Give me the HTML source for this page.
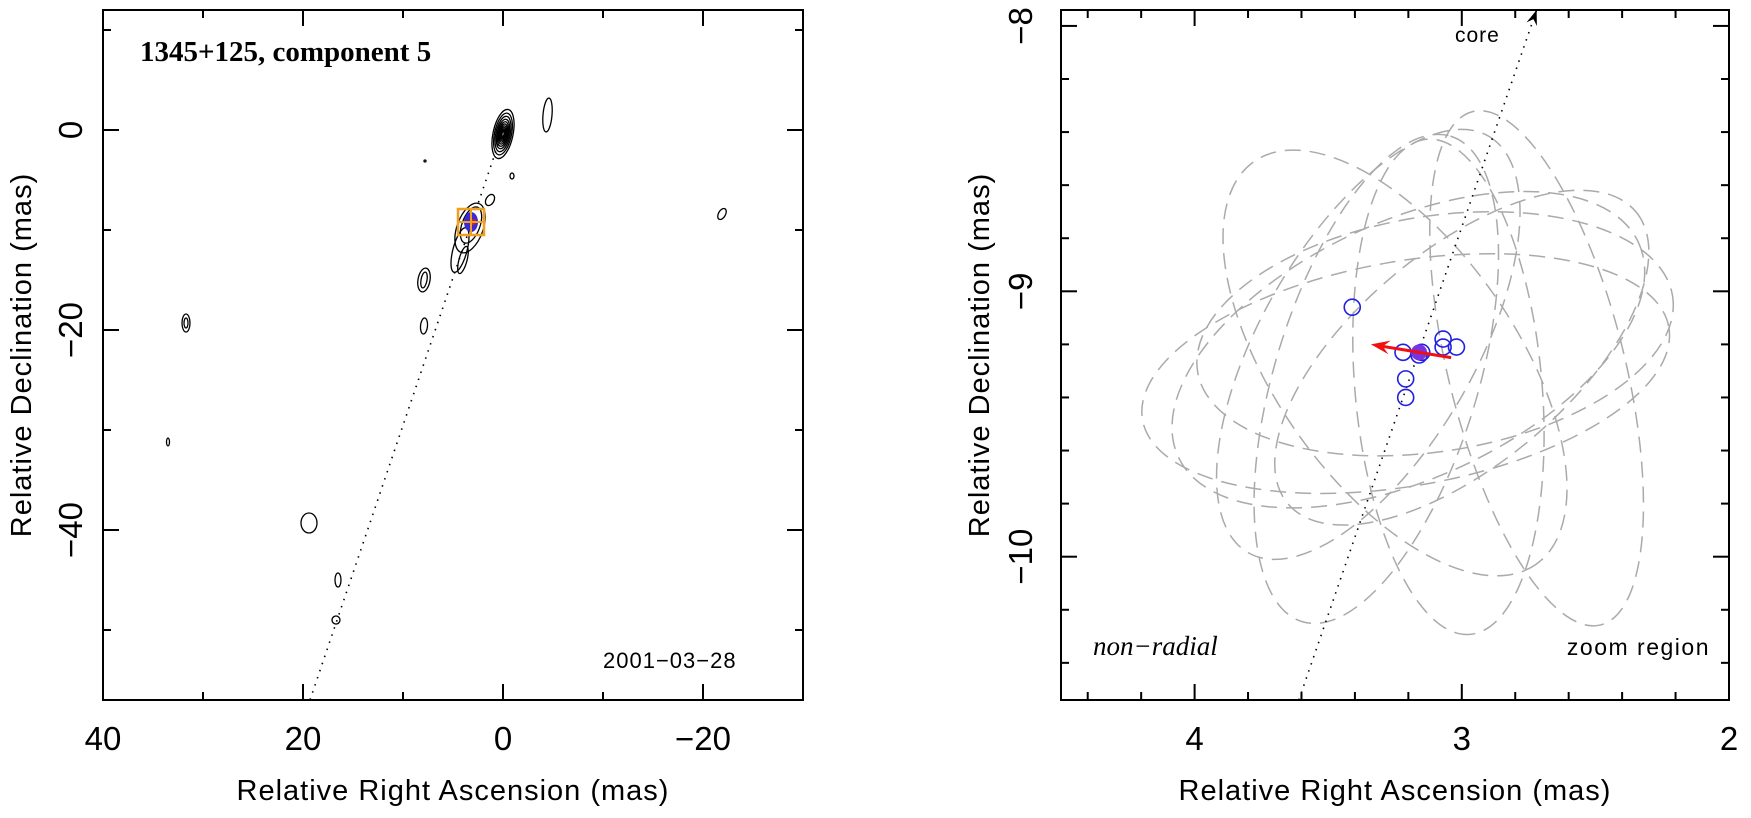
<!DOCTYPE html>
<html><head><meta charset="utf-8"><style>
body{margin:0;background:#fff}
svg{display:block}
text{font-family:"Liberation Sans",sans-serif;fill:#000}
</style></head><body>
<svg id="fig" width="1751" height="818" viewBox="0 0 1751 818" xmlns="http://www.w3.org/2000/svg">
<g id="left"></g>
<g id="right"></g>
</svg>
<script>
// ---- data: left panel (mas) ----
const leftXTicks = [40, 20, 0, -20];
const leftYTicks = [0, -20, -40];
const coreContourLevels = [1.0, 0.85, 0.72, 0.6, 0.5, 0.41, 0.33, 0.26, 0.2, 0.15, 0.1];
// blobs: ra, dec, semi-a, semi-b, angle
const blobRA  = [-4.45, -21.9, 31.7, 31.7, 33.5, 7.9, 7.9, 7.9, 4.3, 4.0, 1.3, -0.9, 19.4, 16.5, 16.7, 7.8, 3.3, 3.2];
const blobDec = [1.5, -8.4, -19.3, -19.3, -31.2, -15.0, -15.0, -19.6, -12.0, -13.0, -7.0, -4.6, -39.3, -45.0, -49.0, -3.1, -9.8, -9.5];
const blobA   = [0.45, 0.6, 0.4, 0.2, 0.15, 0.6, 0.3, 0.35, 0.7, 0.4, 0.4, 0.2, 0.8, 0.3, 0.4, 0.1, 1.3, 0.9];
const blobB   = [1.7, 0.35, 0.9, 0.5, 0.4, 1.2, 0.8, 0.8, 2.3, 1.4, 0.6, 0.3, 1.0, 0.7, 0.4, 0.1, 2.6, 1.9];
const blobAng = [5, -60, 0, 0, 0, 10, 10, 5, 15, 15, 30, 0, 0, 0, 30, 0, 20, 20];
const compRA = 3.2, compDec = -9.2;
// ---- data: right panel (mas) ----
const rightXTicks = [4, 3, 2];
const rightYTicks = [-8, -9, -10];
const epochRA  = [3.41, 3.22, 3.16, 3.07, 3.07, 3.02, 3.21, 3.21, 3.15];
const epochDec = [-9.06, -9.23, -9.24, -9.18, -9.21, -9.21, -9.33, -9.40, -9.23];
const meanRA = 3.16, meanDec = -9.23;
const arrowFrom = [3.04, -9.25], arrowTo = [3.34, -9.20];
const coreLineFrom = [3.61, -10.54], coreLineTo = [2.72, -7.94];
// error ellipses: ra, dec, semi-major, semi-minor (mas), angle (deg, clockwise from x)
const ellRA  = [3.21, 2.72, 3.32, 3.1, 3.2, 3.05, 3.25, 3.0, 3.35];
const ellDec = [-9.31, -9.29, -9.33, -9.16, -9.22, -9.36, -9.27, -9.25, -9.2];
const ellA   = [1.0, 0.99, 0.95, 0.9, 0.95, 0.93, 0.92, 0.85, 0.9];
const ellB   = [0.42, 0.33, 0.38, 0.44, 0.48, 0.35, 0.45, 0.4, 0.4];
const ellAng = [-10, 76, -73, -9, -25, 85, 55, -40, -60];

const NS = "http://www.w3.org/2000/svg";
function mk(parent, tag, attrs){const e=document.createElementNS(NS,tag);for(const k in attrs)e.setAttribute(k,attrs[k]);parent.appendChild(e);return e;}

// ---------- LEFT ----------
const L = document.getElementById('left');
const lx0=103,lx1=803,ly0=10,ly1=700, lraMax=40, lraMin=-30, ldecMax=12, ldecMin=-57;
const lx = ra => lx0 + (lraMax-ra)/(lraMax-lraMin)*(lx1-lx0);
const ly = d => ly0 + (ldecMax-d)/(ldecMax-ldecMin)*(ly1-ly0);
const lsx = (lx1-lx0)/(lraMax-lraMin);
let fr = mk(L,'rect',{x:lx0,y:ly0,width:lx1-lx0,height:ly1-ly0,fill:'none',stroke:'#000','stroke-width':2});
 
for(let v=40; v>=-30; v-=10){const major=(v%20===0);const len=major?16:8;
  mk(L,'line',{x1:lx(v),x2:lx(v),y1:ly1,y2:ly1-len,stroke:'#000','stroke-width':2});
  mk(L,'line',{x1:lx(v),x2:lx(v),y1:ly0,y2:ly0+len,stroke:'#000','stroke-width':2});}
for(let v=10; v>=-50; v-=10){const major=(v%20===0);const len=major?16:8;
  mk(L,'line',{x1:lx0,x2:lx0+len,y1:ly(v),y2:ly(v),stroke:'#000','stroke-width':2});
  mk(L,'line',{x1:lx1,x2:lx1-len,y1:ly(v),y2:ly(v),stroke:'#000','stroke-width':2});}
leftXTicks.forEach(v=>{const t=mk(L,'text',{x:lx(v),y:750,'font-size':33,'text-anchor':'middle'});t.textContent=String(v).replace('-','−');
   });
leftYTicks.forEach(v=>{const t=mk(L,'text',{x:0,y:0,'font-size':33,'text-anchor':'middle',transform:`translate(82,${ly(v)}) rotate(-90)`});t.textContent=String(v).replace('-','−');
   });
let t=mk(L,'text',{x:453,y:800,'font-size':29,'text-anchor':'middle','letter-spacing':'1'});t.textContent='Relative Right Ascension (mas)';
 
t=mk(L,'text',{x:0,y:0,'font-size':29,'text-anchor':'middle','letter-spacing':'1',transform:`translate(31,${(ly0+ly1)/2}) rotate(-90)`});t.textContent='Relative Declination (mas)';
 
t=mk(L,'text',{x:140,y:61,'font-size':29,'font-weight':'bold',style:'font-family:"Liberation Serif",serif'});t.textContent='1345+125, component 5';
 
t=mk(L,'text',{x:603,y:668,'font-size':22,fill:'#333','letter-spacing':'1'});t.textContent='2001−03−28';
 
// dotted jet line
let dl=mk(L,'line',{x1:lx(0),y1:ly(0),x2:lx(19.3),y2:ly(-57),stroke:'#000','stroke-width':1.6,'stroke-dasharray':'1.5 6'});
 
// core contours
coreContourLevels.forEach(s=>{const e=mk(L,'ellipse',{cx:lx(0),cy:ly(-0.4),rx:1.0*s*lsx,ry:2.5*s*lsx,fill:'none',stroke:'#000','stroke-width':1.3,transform:`rotate(12 ${lx(0)} ${ly(-0.4)})`});
   });
// blobs
blobRA.forEach((ra,i)=>{const cx=lx(ra),cy=ly(blobDec[i]);const e=mk(L,'ellipse',{cx,cy,rx:blobA[i]*lsx,ry:blobB[i]*lsx,fill:'none',stroke:'#000','stroke-width':1.3,transform:`rotate(${blobAng[i]} ${cx} ${cy})`});
   });
// component marker
const ccx=lx(compRA), ccy=ly(compDec);
let ce=mk(L,'ellipse',{cx:ccx,cy:ccy,rx:7,ry:10,fill:'#3a2bd6'});  
ce=mk(L,'circle',{cx:ccx+2,cy:ccy,r:3,fill:'#e02020'});  
let zr=mk(L,'rect',{x:ccx-13,y:ccy-13,width:26,height:26,fill:'none',stroke:'#f0a020','stroke-width':2.5});
mk(L,'line',{x1:ccx-13,x2:ccx+13,y1:ccy,y2:ccy,stroke:'#f0a020','stroke-width':2});
mk(L,'line',{x1:ccx,x2:ccx,y1:ccy-13,y2:ccy+13,stroke:'#f0a020','stroke-width':2});

// ---------- RIGHT ----------
const R = document.getElementById('right');
const rx0=1061,rx1=1729,ry0=10,ry1=700, rraMax=4.5, rraMin=2.0, rdecMax=-7.94, rdecMin=-10.54;
const rx = ra => rx0 + (rraMax-ra)/(rraMax-rraMin)*(rx1-rx0);
const ry = d => ry0 + (rdecMax-d)/(rdecMax-rdecMin)*(ry1-ry0);
const rs = (rx1-rx0)/(rraMax-rraMin);
fr=mk(R,'rect',{x:rx0,y:ry0,width:rx1-rx0,height:ry1-ry0,fill:'none',stroke:'#000','stroke-width':2});
 
for(let k=0;k<=12;k++){const v=4.4-0.2*k; if(v<2.01) break; const major=Math.abs(v-Math.round(v))<1e-6; const len=major?16:8;
  mk(R,'line',{x1:rx(v),x2:rx(v),y1:ry1,y2:ry1-len,stroke:'#000','stroke-width':2});
  mk(R,'line',{x1:rx(v),x2:rx(v),y1:ry0,y2:ry0+len,stroke:'#000','stroke-width':2});}
for(let k=0;k<=13;k++){const v=-8.0-0.2*k; if(v<-10.53) break; const major=Math.abs(v-Math.round(v))<1e-6; const len=major?16:8;
  mk(R,'line',{x1:rx0,x2:rx0+len,y1:ry(v),y2:ry(v),stroke:'#000','stroke-width':2});
  mk(R,'line',{x1:rx1,x2:rx1-len,y1:ry(v),y2:ry(v),stroke:'#000','stroke-width':2});}
rightXTicks.forEach(v=>{const t=mk(R,'text',{x:rx(v),y:750,'font-size':33,'text-anchor':'middle'});t.textContent=String(v);
   });
rightYTicks.forEach(v=>{const t=mk(R,'text',{x:0,y:0,'font-size':33,'text-anchor':'middle',transform:`translate(1032,${ry(v)}) rotate(-90)`});t.textContent=String(v).replace('-','−');
   });
t=mk(R,'text',{x:1395,y:800,'font-size':29,'text-anchor':'middle','letter-spacing':'1'});t.textContent='Relative Right Ascension (mas)';
 
t=mk(R,'text',{x:0,y:0,'font-size':29,'text-anchor':'middle','letter-spacing':'1',transform:`translate(989,${(ry0+ry1)/2}) rotate(-90)`});t.textContent='Relative Declination (mas)';
 
t=mk(R,'text',{x:1093,y:655,'font-size':27,style:'font-family:"Liberation Serif",serif;font-style:italic'});t.textContent='non−radial';
 
t=mk(R,'text',{x:1710,y:655,'font-size':23,'text-anchor':'end',fill:'#333','letter-spacing':'1.5'});t.textContent='zoom region';
 
// ellipses
ellRA.forEach((ra,i)=>{const cx=rx(ra),cy=ry(ellDec[i]);const e=mk(R,'ellipse',{cx,cy,rx:ellA[i]*rs,ry:ellB[i]*rs,fill:'none',stroke:'#aaa','stroke-width':1.5,'stroke-dasharray':'16 9',transform:`rotate(${ellAng[i]} ${cx} ${cy})`});
   });
// core line
dl=mk(R,'line',{x1:rx(coreLineFrom[0]),y1:ry(coreLineFrom[1]),x2:rx(coreLineTo[0]),y2:ry(coreLineTo[1]),stroke:'#000','stroke-width':1.6,'stroke-dasharray':'1.5 6'});
 
{const x2=rx(coreLineTo[0]),y2=ry(coreLineTo[1]),x1=rx(coreLineFrom[0]),y1=ry(coreLineFrom[1]);
 const a=Math.atan2(y2-y1,x2-x1),L1=16,w=0.35;
 const p=mk(R,'polygon',{points:`${x2},${y2} ${x2-L1*Math.cos(a-w)},${y2-L1*Math.sin(a-w)} ${x2-L1*0.6*Math.cos(a)},${y2-L1*0.6*Math.sin(a)} ${x2-L1*Math.cos(a+w)},${y2-L1*Math.sin(a+w)}`,fill:'#000'});
  }
t=mk(R,'text',{x:1455,y:42,'font-size':21,'letter-spacing':'1'});t.textContent='core';
 
// epoch circles
epochRA.forEach((ra,i)=>{const c=mk(R,'circle',{cx:rx(ra),cy:ry(epochDec[i]),r:8,fill:'none',stroke:'#2020e0','stroke-width':1.6});
   });
let mc=mk(R,'circle',{cx:rx(meanRA),cy:ry(meanDec),r:8,fill:'#7a33e0'});  
// red arrow
{const x1=rx(arrowFrom[0]),y1=ry(arrowFrom[1]),x2=rx(arrowTo[0]),y2=ry(arrowTo[1]);
 const a=Math.atan2(y2-y1,x2-x1),L1=20,w=0.35;
 const ln=mk(R,'line',{x1,y1,x2:x2-12*Math.cos(a),y2:y2-12*Math.sin(a),stroke:'#f01010','stroke-width':3});
  
 const p=mk(R,'polygon',{points:`${x2},${y2} ${x2-L1*Math.cos(a-w)},${y2-L1*Math.sin(a-w)} ${x2-L1*0.6*Math.cos(a)},${y2-L1*0.6*Math.sin(a)} ${x2-L1*Math.cos(a+w)},${y2-L1*Math.sin(a+w)}`,fill:'#f01010'});
  }
</script>
</body></html>
